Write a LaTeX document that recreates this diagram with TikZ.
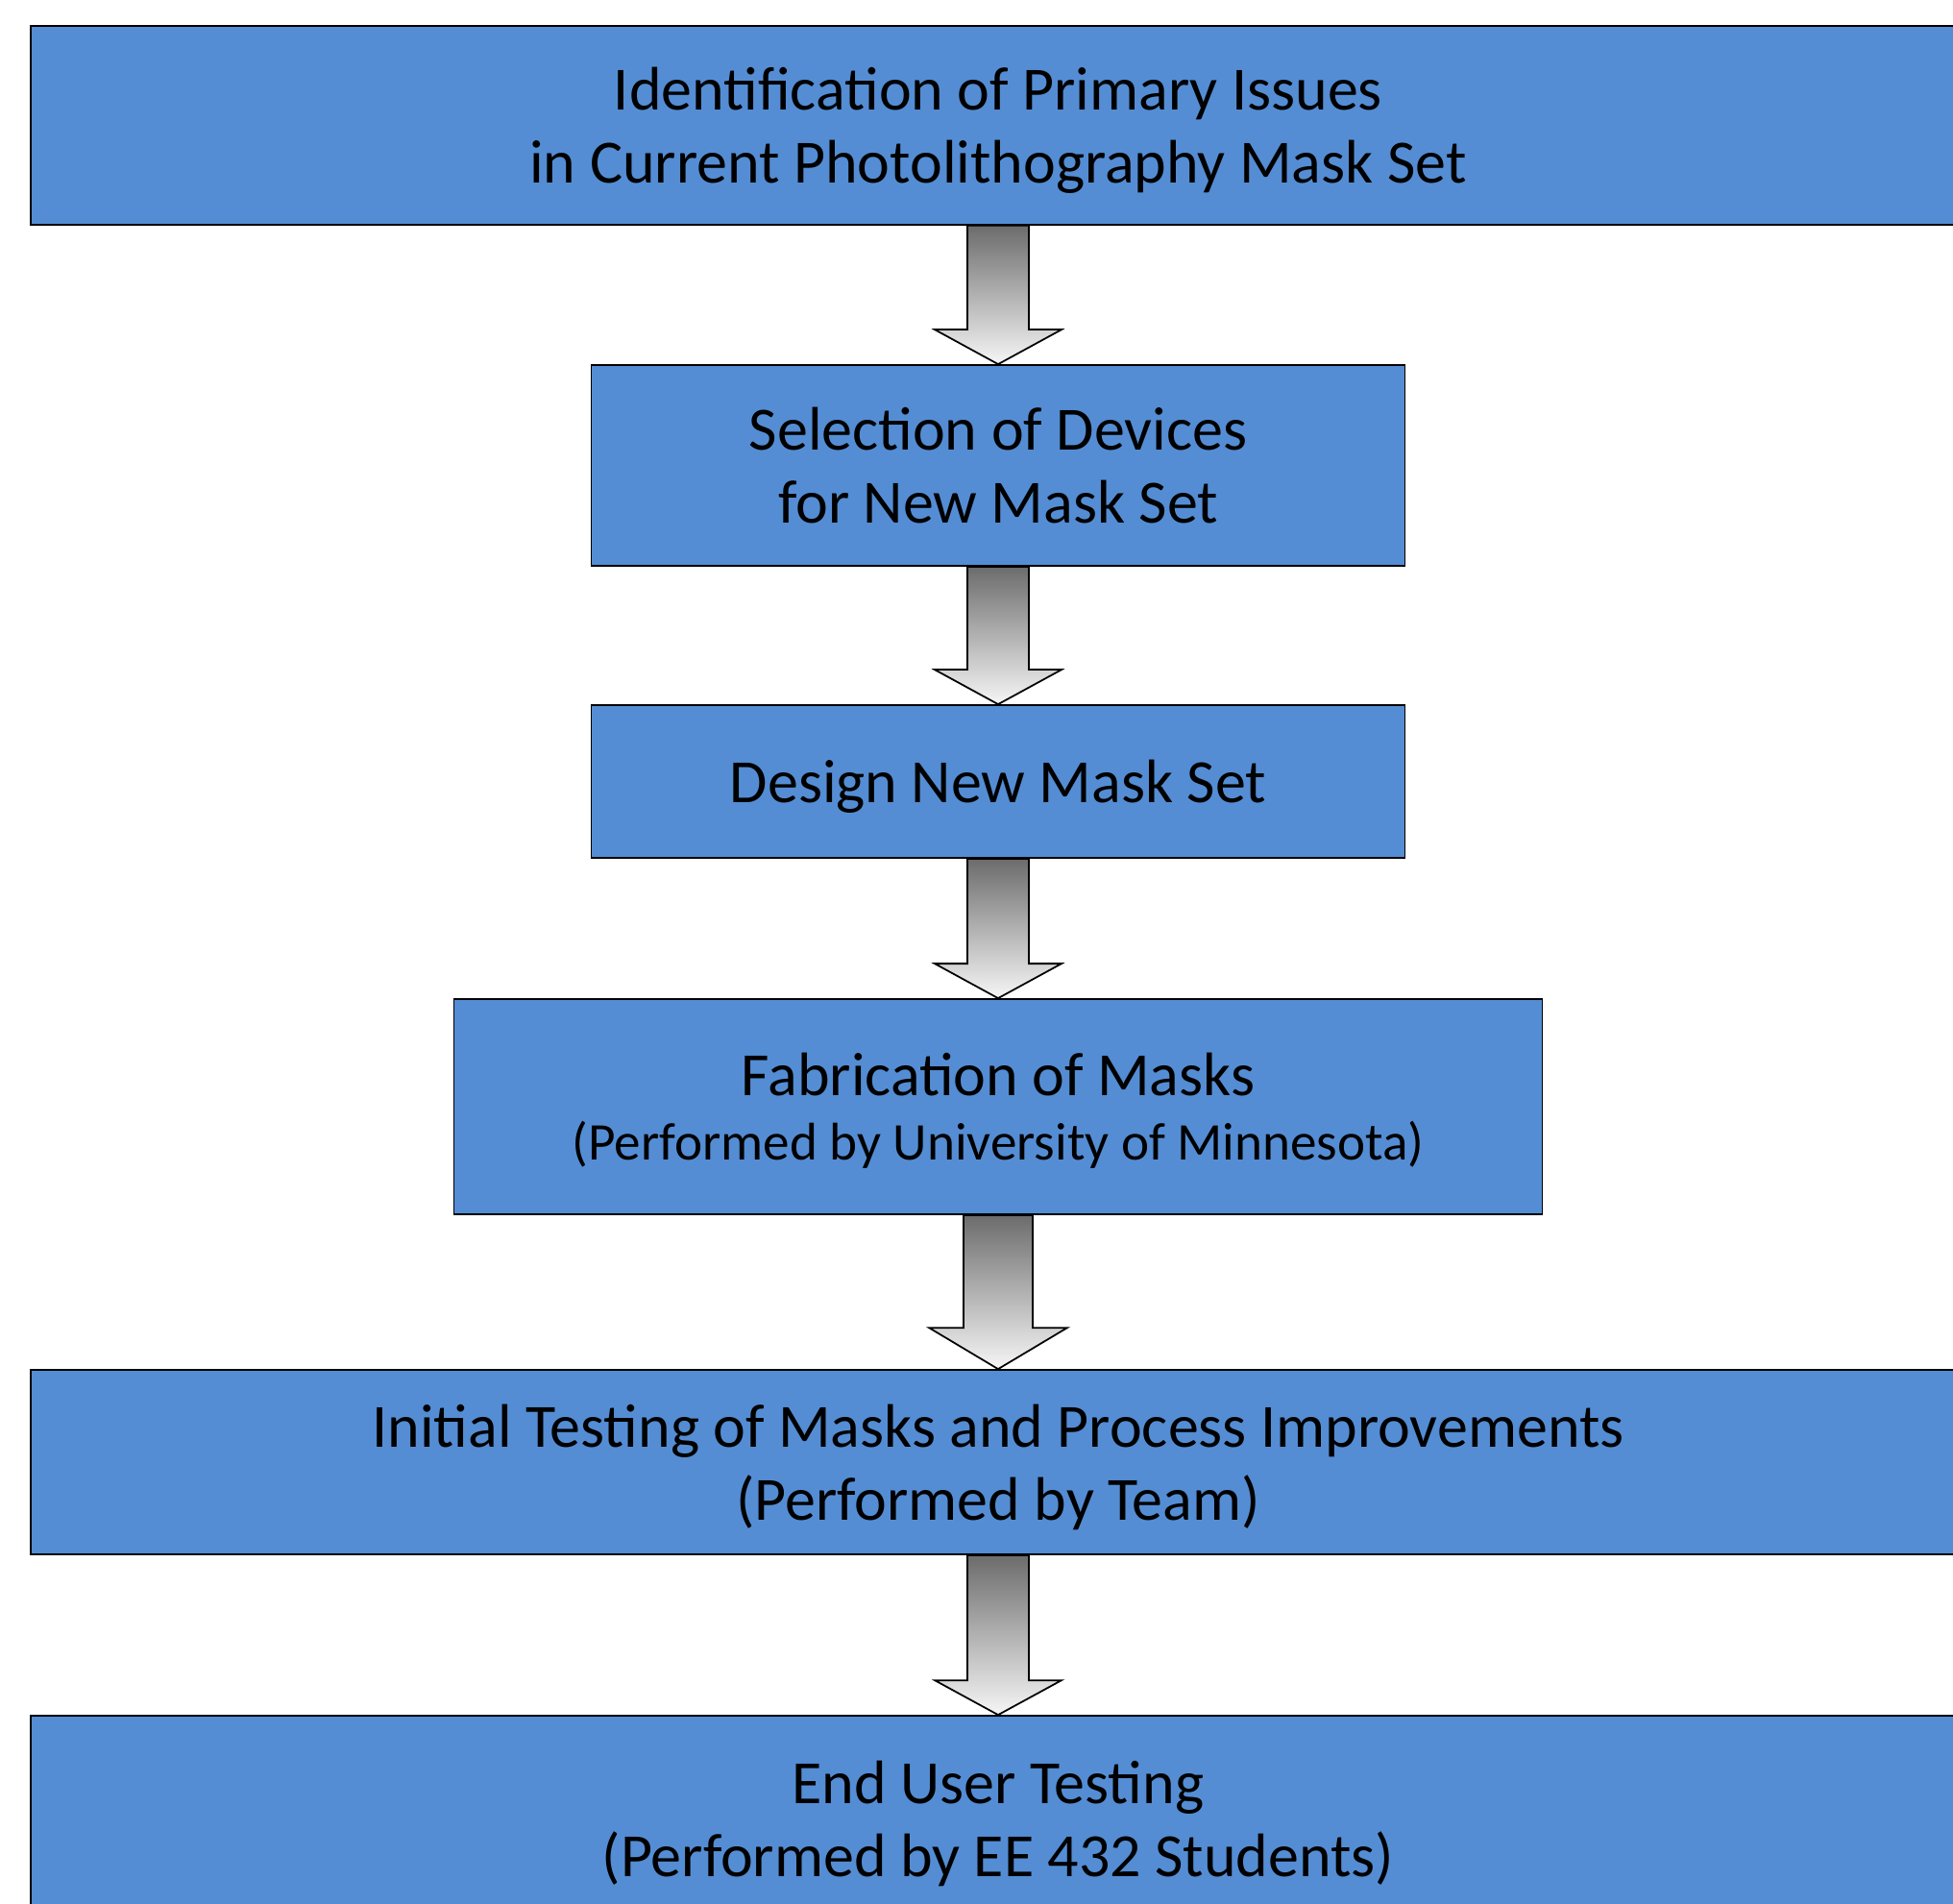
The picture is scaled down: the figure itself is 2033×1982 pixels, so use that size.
\documentclass[tikz,border=0pt]{standalone}
\usepackage{fontspec}
\setmainfont{Carlito}
\usetikzlibrary{calc}
\usetikzlibrary{positioning, shapes}
\definecolor{boxblue}{RGB}{84,141,212}
\definecolor{arrowtop}{RGB}{108,108,108}
\definecolor{arrowbot}{RGB}{246,246,246}
\newcommand\Smallline[1]{{\fontsize{15.7}{19}\selectfont #1}}
% from, to, shaft half width, head half width, head length
\newcommand\FlowArrow[5]{%
  \path[arrowbody] ($(#1.south)+(-#3,0)$) -- ($(#1.south)+(#3,0)$)
    -- ($(#2.north)+(#3,-#5)$) -- ($(#2.north)+(#4,-#5)$) -- (#2.north)
    -- ($(#2.north)+(-#4,-#5)$) -- ($(#2.north)+(-#3,-#5)$) -- cycle;}

\begin{document}
\begin{tikzpicture}[x=0.1mm, y=-0.1mm,
blockbox/.style={
  rectangle, draw=black, line width=0.5pt,
  fill=boxblue,
  inner sep=0pt,
  align=center,
  execute at begin node=\strut,
  text depth=-0.6pt,
  font=\fontsize{18.2}{21.6}\selectfont
},
arrowbody/.style={
  draw=black, line width=0.5pt,
  top color=arrowtop, bottom color=arrowbot
}]
\useasboundingbox (0,0) rectangle (2033,1982);

\node (issues) [blockbox, minimum width=201.4mm, minimum height=20.7mm] at (1039,130.5)
  {Identification of Primary Issues\\ in Current Photolithography Mask Set};
\node (devices) [blockbox, minimum width=84.7mm, minimum height=20.9mm] at (1039,484.5)
  {Selection of Devices\\ for New Mask Set};
\node (design) [blockbox, minimum width=84.7mm, minimum height=15.9mm, text depth=2.8pt] at (1039,813.5)
  {Design New Mask Set};
\node (fab) [blockbox, minimum width=113.3mm, minimum height=22.4mm] at (1039,1152)
  {Fabrication of Masks\\[-2.6pt] \Smallline{(Performed by University of Minnesota)}};
\node (testing) [blockbox, minimum width=201.4mm, minimum height=19.2mm] at (1039,1522)
  {Initial Testing of Masks and Process Improvements\\ (Performed by Team)};
\node (enduser) [blockbox, minimum width=201.4mm, minimum height=21.4mm] at (1039,1893)
  {End User Testing\\ (Performed by EE 432 Students)};

% connectors
\FlowArrow{issues}{devices}{32}{66}{36}
\FlowArrow{devices}{design}{32}{66}{36}
\FlowArrow{design}{fab}{32}{66}{36}
\FlowArrow{fab}{testing}{36}{72}{43}
\FlowArrow{testing}{enduser}{32}{66}{36}
\end{tikzpicture}
\end{document}
